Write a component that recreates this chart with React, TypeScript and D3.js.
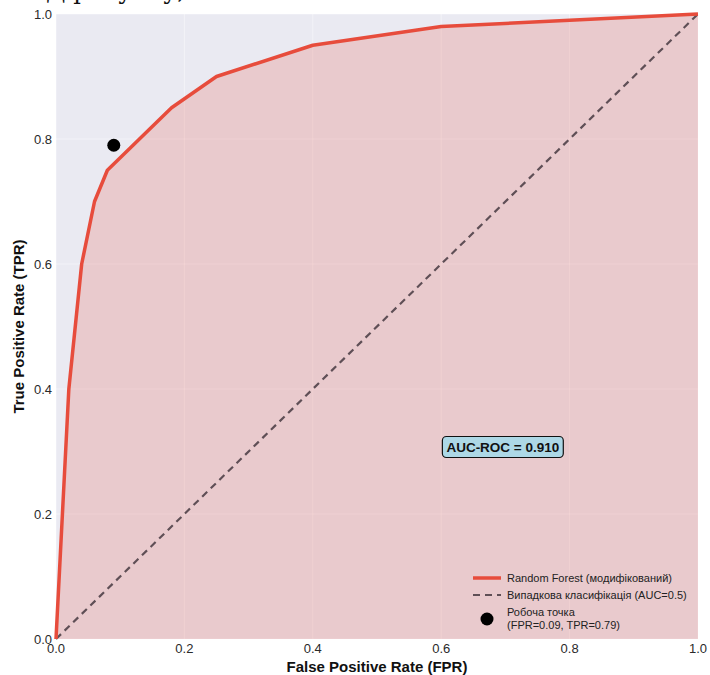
import React, { useEffect, useRef } from 'react';
import * as d3 from 'd3';

// ROC curve points
const fprValues = [0, 0.02, 0.04, 0.06, 0.08, 0.12, 0.18, 0.25, 0.4, 0.6, 0.8, 1.0];
const tprValues = [0, 0.4, 0.6, 0.7, 0.75, 0.79, 0.85, 0.9, 0.95, 0.98, 0.99, 1.0];
const diagonal = [0, 1];
const workPoint = { fpr: 0.09, tpr: 0.79 };
const tickValues = [0, 0.2, 0.4, 0.6, 0.8, 1.0];
const legendLabels = [
  'Random Forest (модифікований)',
  'Випадкова класифікація (AUC=0.5)',
  'Робоча точка',
  '(FPR=0.09, TPR=0.79)',
];
const aucLabel = 'AUC-ROC = 0.910';

const W = 710;
const H = 675;
const margin = { left: 56, right: 12, top: 14, bottom: 36 };
const FONT = '"Liberation Sans", Arial, sans-serif';

const App = () => {
  const ref = useRef<SVGSVGElement>(null);

  useEffect(() => {
    const svg = d3.select(ref.current);
    svg.selectAll('*').remove();

    const x = d3.scaleLinear().domain([0, 1]).range([margin.left, W - margin.right]);
    const y = d3.scaleLinear().domain([0, 1]).range([H - margin.bottom, margin.top]);

    // scanned caption text cut off at the top
    svg.append('text')
      .attr('x', 46)
      .attr('y', -1)
      .attr('font-family', '"DejaVu Serif", "Liberation Serif", serif')
      .attr('font-size', 24)
      .attr('fill', '#111')
      .text('Д        рисунку,');

    // plot background
    svg.append('rect')
      .attr('x', x(0))
      .attr('y', y(1))
      .attr('width', x(1) - x(0))
      .attr('height', y(0) - y(1))
      .attr('fill', '#eaeaf2');

    // grid
    svg.selectAll('.gx')
      .data(tickValues)
      .enter()
      .append('line')
      .attr('x1', d => x(d)).attr('x2', d => x(d))
      .attr('y1', y(0)).attr('y2', y(1))
      .attr('stroke', '#ffffff')
      .attr('stroke-opacity', 0.45)
      .attr('stroke-width', 1);
    svg.selectAll('.gy')
      .data(tickValues)
      .enter()
      .append('line')
      .attr('y1', d => y(d)).attr('y2', d => y(d))
      .attr('x1', x(0)).attr('x2', x(1))
      .attr('stroke', '#ffffff')
      .attr('stroke-opacity', 0.45)
      .attr('stroke-width', 1);

    const pts: [number, number][] = fprValues.map((f, i) => [f, tprValues[i]]);

    // area under curve
    const area = d3.area<[number, number]>()
      .x(d => x(d[0]))
      .y0(y(0))
      .y1(d => y(d[1]));
    svg.append('path')
      .datum(pts)
      .attr('d', area)
      .attr('fill', '#e74c3c')
      .attr('fill-opacity', 0.2);

    // random diagonal
    svg.append('line')
      .attr('x1', x(diagonal[0])).attr('y1', y(diagonal[0]))
      .attr('x2', x(diagonal[1])).attr('y2', y(diagonal[1]))
      .attr('stroke', '#5f4f56')
      .attr('stroke-width', 2.2)
      .attr('stroke-dasharray', '7,5');

    // ROC line
    const line = d3.line<[number, number]>().x(d => x(d[0])).y(d => y(d[1]));
    svg.append('path')
      .datum(pts)
      .attr('d', line)
      .attr('fill', 'none')
      .attr('stroke', '#e74c3c')
      .attr('stroke-width', 3.5)
      .attr('stroke-linejoin', 'round');

    // working point
    svg.append('circle')
      .attr('cx', x(workPoint.fpr))
      .attr('cy', y(workPoint.tpr))
      .attr('r', 6.5)
      .attr('fill', '#000');

    // ticks
    svg.selectAll('.xt')
      .data(tickValues)
      .enter()
      .append('text')
      .attr('x', d => x(d))
      .attr('y', H - margin.bottom + 14)
      .attr('text-anchor', 'middle')
      .attr('font-family', FONT)
      .attr('font-size', 13)
      .attr('fill', '#2a2a2a')
      .text(d => d.toFixed(1));
    svg.selectAll('.yt')
      .data(tickValues)
      .enter()
      .append('text')
      .attr('x', margin.left - 4)
      .attr('y', d => y(d) + 5)
      .attr('text-anchor', 'end')
      .attr('font-family', FONT)
      .attr('font-size', 13)
      .attr('fill', '#2a2a2a')
      .text(d => d.toFixed(1));

    // axis labels
    svg.append('text')
      .attr('x', (x(0) + x(1)) / 2)
      .attr('y', H - 3)
      .attr('text-anchor', 'middle')
      .attr('font-family', FONT)
      .attr('font-size', 15)
      .attr('font-weight', 'bold')
      .attr('fill', '#111')
      .text('False Positive Rate (FPR)');
    svg.append('text')
      .attr('transform', `translate(24,${(y(0) + y(1)) / 2}) rotate(-90)`)
      .attr('text-anchor', 'middle')
      .attr('font-family', FONT)
      .attr('font-size', 15)
      .attr('font-weight', 'bold')
      .attr('fill', '#111')
      .text('True Positive Rate (TPR)');

    // AUC box
    const aucG = svg.append('g').attr('transform', `translate(${x(0.696)},${y(0.308)})`);
    const aucText = aucG.append('text')
      .attr('text-anchor', 'middle')
      .attr('y', 5)
      .attr('font-family', FONT)
      .attr('font-size', 13.5)
      .attr('font-weight', 'bold')
      .attr('fill', '#111')
      .text(aucLabel);
    const bb = (aucText.node() as SVGTextElement).getBBox();
    aucG.insert('rect', 'text')
      .attr('x', bb.x - 4)
      .attr('y', bb.y - 3)
      .attr('width', bb.width + 8)
      .attr('height', bb.height + 6)
      .attr('rx', 4)
      .attr('fill', '#add8e6')
      .attr('stroke', '#111')
      .attr('stroke-width', 1.2);

    // legend
    const lg = svg.append('g').attr('transform', 'translate(473,578)');
    lg.append('line')
      .attr('x1', 0).attr('x2', 28).attr('y1', 0).attr('y2', 0)
      .attr('stroke', '#e74c3c').attr('stroke-width', 3.5);
    lg.append('line')
      .attr('x1', 0).attr('x2', 28).attr('y1', 17).attr('y2', 17)
      .attr('stroke', '#5f4f56').attr('stroke-width', 2.2)
      .attr('stroke-dasharray', '7,5');
    lg.append('circle')
      .attr('cx', 14).attr('cy', 41).attr('r', 6.5).attr('fill', '#000');
    const lgY = [0, 17, 34, 47];
    lg.selectAll('.lt')
      .data(legendLabels)
      .enter()
      .append('text')
      .attr('x', 34)
      .attr('y', (d, i) => lgY[i] + 4)
      .attr('font-family', FONT)
      .attr('font-size', 11)
      .attr('fill', '#222')
      .text(d => d);
  }, []);

  return (
    <svg ref={ref} width={W} height={H} style={{ position: 'absolute', left: 0, top: 0, background: '#fff' }} />
  );
};

export default App;
